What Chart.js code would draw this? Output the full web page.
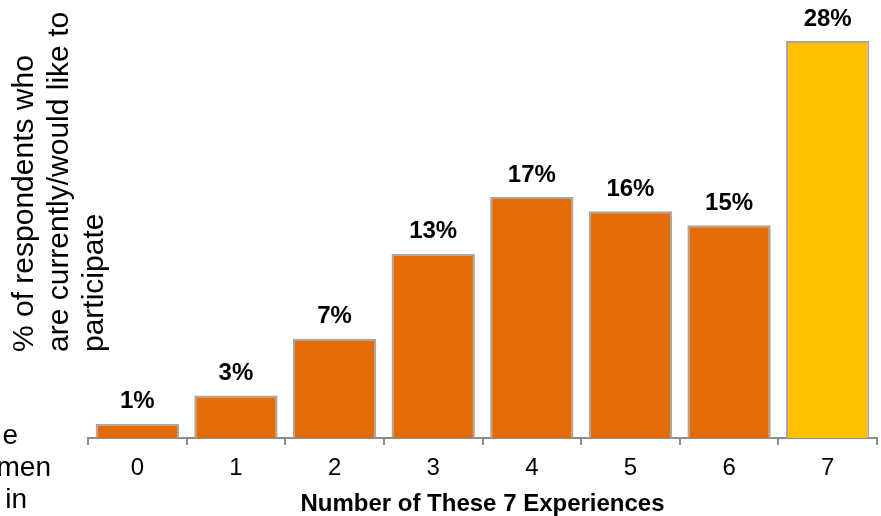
<!DOCTYPE html>
<html>
<head>
<meta charset="utf-8">
<script src="https://cdn.jsdelivr.net/npm/chart.js@4/dist/chart.umd.min.js"></script>
<style>
  html, body { margin: 0; padding: 0; background: #fff; }
  #wrap { width: 881px; height: 516px; position: relative; }
</style>
</head>
<body>
<div id="wrap"><canvas id="myChart" width="881" height="516"></canvas></div>
<script>
// data
const categories = ['0', '1', '2', '3', '4', '5', '6', '7'];
const percentValues = [1, 3, 7, 13, 17, 16, 15, 28];
const barColors = ['#E36C09', '#E36C09', '#E36C09', '#E36C09', '#E36C09', '#E36C09', '#E36C09', '#FFC000'];
const yTitleLines = ['% of respondents who', 'are currently/would like to', 'participate'];
const xTitle = 'Number of These 7 Experiences';
const leftFragments = ['e', 'men', 'in'];

const FONT = 'Arial, "Liberation Sans", Helvetica, sans-serif';

// labels over bars + rotated y title + cut text on the left
const extraText = {
  id: 'extraText',
  afterDatasetsDraw(chart) {
    const ctx = chart.ctx;
    const meta = chart.getDatasetMeta(0);
    ctx.save();
    ctx.fillStyle = '#000';
    ctx.font = 'bold 24px ' + FONT;
    ctx.textAlign = 'center';
    ctx.textBaseline = 'middle';
    meta.data.forEach((bar, i) => {
      ctx.fillText(percentValues[i] + '%', bar.x, bar.y - 22);
    });
    ctx.restore();
  },
  afterDraw(chart) {
    const ctx = chart.ctx;
    ctx.save();
    ctx.fillStyle = '#000';
    ctx.font = '30px ' + FONT;
    ctx.textAlign = 'left';
    ctx.textBaseline = 'alphabetic';
    yTitleLines.forEach((line, i) => {
      ctx.save();
      ctx.translate(33 + i * 35, 352);
      ctx.rotate(-Math.PI / 2);
      ctx.fillText(line, 0, 0);
      ctx.restore();
    });
    ctx.font = '28px ' + FONT;
    ctx.textAlign = 'right';
    const ends = [18, 51, 27];
    leftFragments.forEach((t, i) => {
      ctx.fillText(t, ends[i], 444 + i * 32);
    });
    ctx.restore();
  }
};

const ctx = document.getElementById('myChart');
const myChart = new Chart(ctx, {
  type: 'bar',
  data: {
    labels: categories,
    datasets: [{
      data: percentValues,
      backgroundColor: barColors,
      borderColor: '#A6A6A6',
      borderWidth: 2,
      categoryPercentage: 1,
      barPercentage: 0.845
    }]
  },
  options: {
    responsive: false,
    animation: false,
    layout: { padding: { left: 88, right: 4, top: 41, bottom: 0 } },
    plugins: {
      legend: { display: false },
      tooltip: { enabled: false }
    },
    scales: {
      x: {
        afterFit(scale) { scale.height = 78; },
        border: { display: true, color: '#8C8C8C', width: 2 },
        grid: {
          display: true,
          drawOnChartArea: false,
          drawTicks: true,
          tickLength: 7,
          color: '#8C8C8C',
          lineWidth: 2,
          offset: true
        },
        ticks: {
          color: '#000',
          font: { family: FONT, size: 24 },
          padding: 9
        },
        title: {
          display: true,
          text: xTitle,
          color: '#000',
          font: { family: FONT, size: 24, weight: 'bold', lineHeight: 1 },
          padding: 0
        }
      },
      y: {
        display: false,
        min: 0,
        max: 28
      }
    }
  },
  plugins: [extraText]
});
</script>
</body>
</html>
